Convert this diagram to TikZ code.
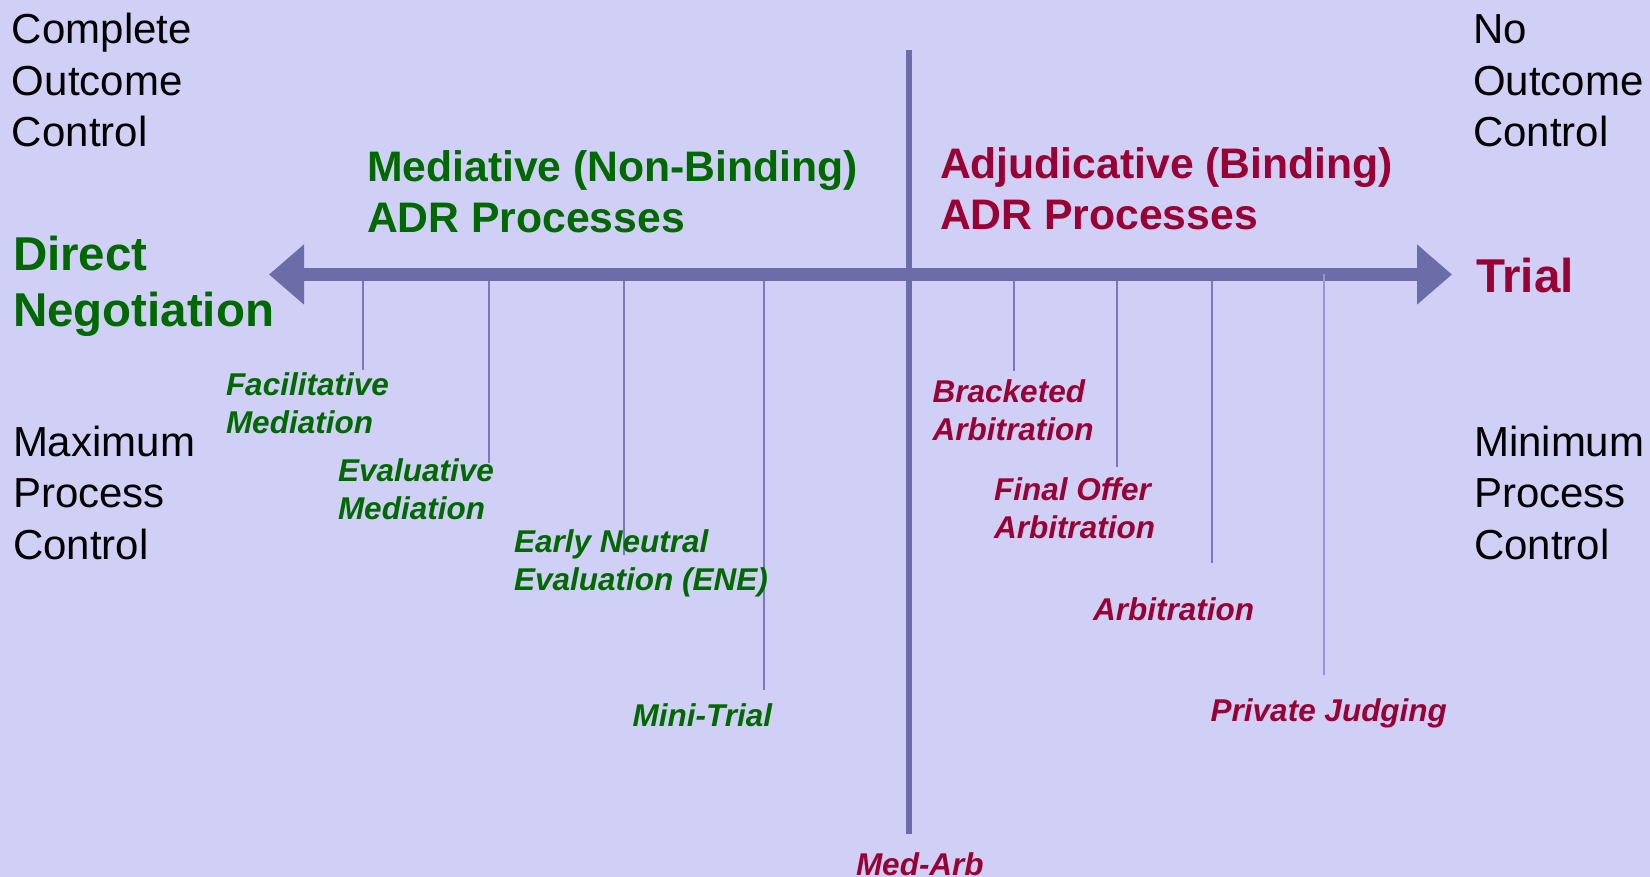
\documentclass[tikz,border=0pt]{standalone}
\usepackage{fontspec}
\setmainfont{Liberation Sans}
\usetikzlibrary{arrows.meta}
\definecolor{bg}{RGB}{208,208,246}
\definecolor{axiscol}{RGB}{108,108,168}
\definecolor{tickcol}{RGB}{122,122,186}
\definecolor{ticklight}{RGB}{150,150,210}
\definecolor{medgreen}{RGB}{0,104,0}
\definecolor{adjred}{RGB}{153,0,51}
\begin{document}
\begin{tikzpicture}[x=1pt,y=-1pt,
  lbl/.style={anchor=base west, inner sep=0pt, outer sep=0pt, align=left},
  corner/.style={lbl, text=black, font=\fontsize{42}{51.5}\selectfont},
  endg/.style={lbl, text=medgreen, font=\fontsize{47.5}{56}\selectfont\bfseries},
  endr/.style={lbl, text=adjred, font=\fontsize{47.5}{56}\selectfont\bfseries},
  headg/.style={lbl, text=medgreen, font=\fontsize{42.7}{51}\selectfont\bfseries},
  headr/.style={lbl, text=adjred, font=\fontsize{42.7}{51}\selectfont\bfseries},
  itg/.style={lbl, text=medgreen, font=\fontsize{31.5}{38}\selectfont\bfseries\itshape},
  itr/.style={lbl, text=adjred, font=\fontsize{31.5}{38}\selectfont\bfseries\itshape},
  axisline/.style={draw=axiscol, line width=13pt},
  vline/.style={draw=axiscol, line width=6pt},
  tickline/.style={draw=tickcol, line width=2pt},
  ticklinelight/.style={draw=ticklight, line width=2pt},
  bigtip/.style={Triangle[length=35pt,width=58pt]}
]
\fill[bg] (0,0) rectangle (1650,877);
\useasboundingbox (0,0) rectangle (1650,877);

% axes
\coordinate (L) at (269,274.5);
\coordinate (R) at (1452,274.5);
\coordinate (T) at (909,50);
\coordinate (B) at (909,834);
\draw[vline] (T) -- (B);
\draw[axisline, {Triangle[length=35pt,width=58pt]}-{Triangle[length=35pt,width=58pt]}] (L) -- (R);

% tick coordinates
\coordinate (fa) at (363,281);   \coordinate (fb) at (363,370);
\coordinate (ea) at (489,281);   \coordinate (eb) at (489,463);
\coordinate (na) at (624,281);   \coordinate (nb) at (624,555);
\coordinate (ma) at (764,281);   \coordinate (mb) at (764,690);
\coordinate (ba) at (1014,281);  \coordinate (bb) at (1014,371);
\coordinate (oa) at (1117,281);  \coordinate (ob) at (1117,467);
\coordinate (aa) at (1212,281);  \coordinate (ab) at (1212,563);
\coordinate (pa) at (1324,274);  \coordinate (pb) at (1324,675);
\draw[tickline] (fa) -- (fb);
\draw[tickline] (ea) -- (eb);
\draw[tickline] (na) -- (nb);
\draw[tickline] (ma) -- (mb);
\draw[tickline] (ba) -- (bb);
\draw[tickline] (oa) -- (ob);
\draw[tickline] (aa) -- (ab);
\draw[ticklinelight] (pa) -- (pb);

% corner texts (anchored at the baseline of the last line)
\node[corner] (coc) at (12,146.7) {Complete\\Outcome\\Control};
\node[corner] (noc) at (1473,146.7) {No\\Outcome\\Control};
\node[corner] (mpc) at (13,559.3) {Maximum\\Process\\Control};
\node[corner] (mipc) at (1474,559.3) {Minimum\\Process\\Control};

% ends
\node[endg] (dn) at (13,326.7) {Direct\\Negotiation};
\node[endr] (trial) at (1476,293) {Trial};

% headings
\node[headg] (med) at (367,233) {Mediative (Non-Binding)\\ADR Processes};
\node[headr] (adj) at (940,229.5) {Adjudicative (Binding)\\ADR Processes};

% process labels
\node[itg] (fac) at (226,433.5) {Facilitative\\Mediation};
\node[itg] (eva) at (338,519.3) {Evaluative\\Mediation};
\node[itg] (ene) at (514,590) {Early Neutral\\Evaluation (ENE)};
\node[itg] (mini) at (632.7,726) {Mini-Trial};
\node[itr] (brk) at (932.7,440) {Bracketed\\Arbitration};
\node[itr] (fin) at (994,538.5) {Final Offer\\Arbitration};
\node[itr] (arb) at (1093,620) {Arbitration};
\node[itr] (pj) at (1210.7,721.7) {Private Judging};
\node[itr] (medarb) at (856,875) {Med-Arb};
\end{tikzpicture}
\end{document}
